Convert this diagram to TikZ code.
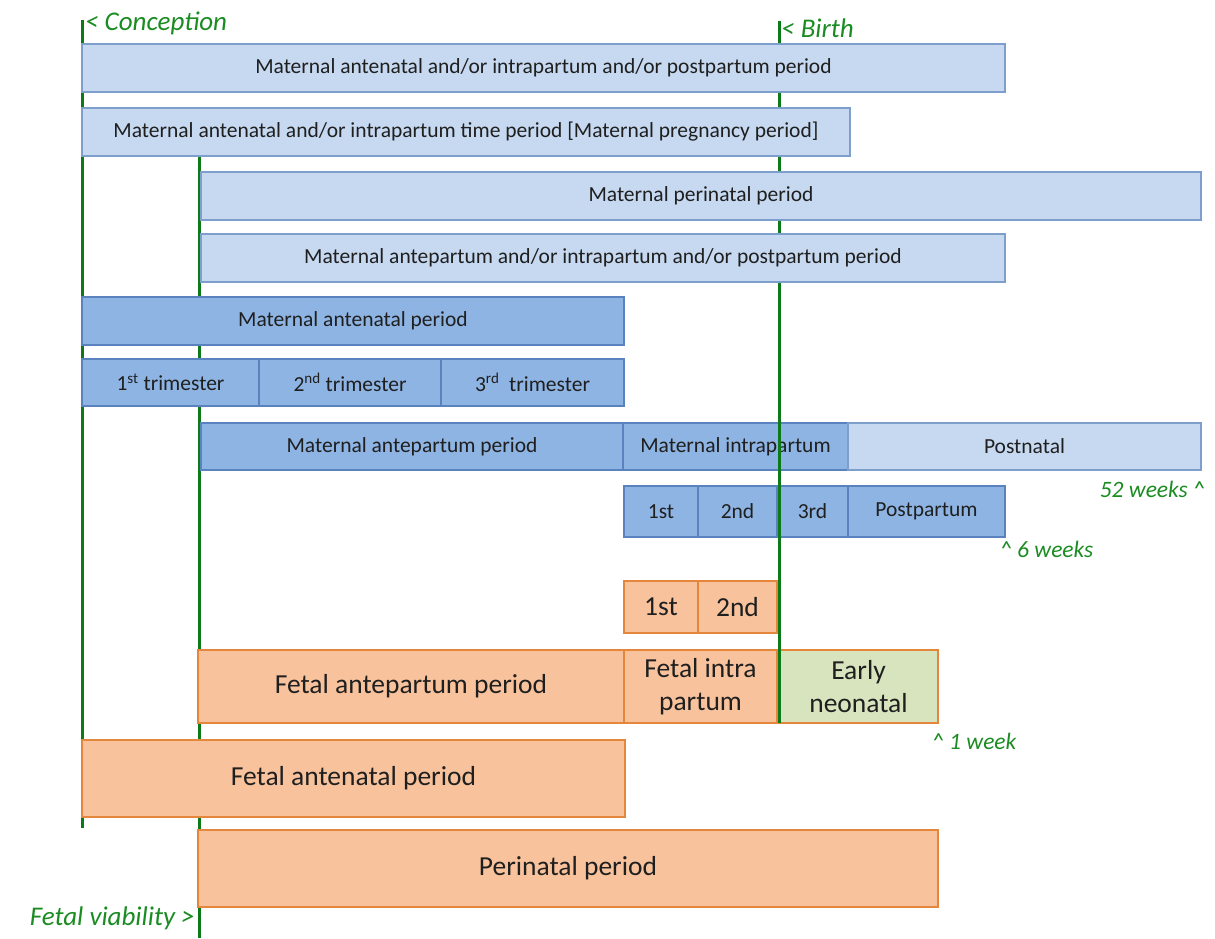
\documentclass[tikz,border=0pt]{standalone}
\usepackage{fontspec}
\setmainfont{Carlito}
\definecolor{lblue}{HTML}{C6D9F1}
\definecolor{lbluebd}{HTML}{7E9ECC}
\definecolor{dblue}{HTML}{8EB4E3}
\definecolor{dbluebd}{HTML}{5A82BE}
\definecolor{orng}{HTML}{F8C29C}
\definecolor{orngbd}{HTML}{E4863C}
\definecolor{neo}{HTML}{D8E4BE}
\definecolor{gline}{HTML}{0C7A18}
\definecolor{gtext}{HTML}{1B8C22}
\newcommand\pbox[7]{\node[#1, anchor=north west, minimum width={#5pt-#3pt}, minimum height={#6pt-#4pt}] (#2) at (#3,#4) {#7};}
\begin{document}
\begin{tikzpicture}[x=1pt,y=-1pt,
  bx/.style={draw, line width=1.3pt, inner sep=0pt, outer sep=0pt, align=center, text=black!88},
  lb/.style={bx, fill=lblue, draw=lbluebd, font=\fontsize{21.5}{25}\selectfont},
  db/.style={bx, fill=dblue, draw=dbluebd, font=\fontsize{21.5}{25}\selectfont},
  ob/.style={bx, fill=orng, draw=orngbd, font=\fontsize{27.5}{33}\selectfont},
  nb/.style={bx, fill=neo, draw=orngbd, font=\fontsize{27.5}{33}\selectfont},
  gl/.style={draw=gline, line width=3pt},
  gt/.style={text=gtext, font=\fontsize{27}{31}\selectfont\itshape, inner sep=0pt},
  gw/.style={gt, font=\fontsize{23.5}{28}\selectfont\itshape}]
\useasboundingbox (0,0) rectangle (1215,938);
% timeline lines (behind boxes)
\coordinate (cT) at (82,20); \coordinate (cB) at (82,828);
\coordinate (vT) at (199,156); \coordinate (vB) at (199,938);
\coordinate (bT) at (779,21); \coordinate (bB) at (779,723);
\coordinate (bM) at (779,418);
\draw[gl] (cT) -- (cB);
\draw[gl] (vT) -- (vB);
\draw[gl] (bT) -- (bB);
% labels
\node[gt, anchor=west] (conc) at (85,23) {< Conception};
\node[gt, anchor=west] (birth) at (781,28) {< Birth};
\node[gt, anchor=east] (viab) at (195,918) {Fetal viability >};
\node[gw, anchor=east] (w52) at (1205,489) {52 weeks \^{}};
\node[gw, anchor=west] (w6) at (1000,549) {\^{} 6 weeks};
\node[gw, anchor=west] (w1) at (932,741) {\^{} 1 week};
% maternal rows
\pbox{lb}{r1}{82}{44}{1005}{92}{Maternal antenatal and/or intrapartum and/or postpartum period}
\pbox{lb}{r2}{82}{108}{850}{156}{Maternal antenatal and/or intrapartum time period [Maternal pregnancy period]}
\pbox{lb}{r3}{201}{172}{1201}{220}{Maternal perinatal period}
\pbox{lb}{r4}{201}{234}{1005}{282}{Maternal antepartum and/or intrapartum and/or postpartum period}
\pbox{db}{r5}{82}{297}{624}{345}{Maternal antenatal period}
\pbox{db}{t1}{82}{359}{259}{406}{1\textsuperscript{st} trimester}
\pbox{db}{t2}{259}{359}{441}{406}{2\textsuperscript{nd} trimester}
\pbox{db}{t3}{441}{359}{624}{406}{3\textsuperscript{rd}\ \ trimester}
\pbox{db}{ap}{201}{423}{623}{470}{Maternal antepartum period}
\pbox{db}{ip}{623}{423}{848}{470}{Maternal intrapartum}
\pbox{lb}{pn}{848}{423}{1201}{470}{Postnatal}
\pbox{db}{s1}{624}{486}{698}{537}{1st}
\pbox{db}{s2}{698}{486}{777}{537}{2nd}
\pbox{db}{s3}{777}{486}{848}{537}{3rd}
\pbox{db}{pp}{848}{486}{1005}{537}{Postpartum}
% fetal rows
\pbox{ob}{f1}{624}{581}{698}{633}{1st}
\pbox{ob}{f2}{698}{581}{777}{633}{2nd}
\pbox{ob}{fap}{198}{650}{624}{723}{Fetal antepartum period}
\pbox{ob}{fip}{624}{650}{777}{723}{Fetal intra\\partum}
\pbox{nb}{en}{779}{650}{938}{723}{Early\\neonatal}
\pbox{ob}{fan}{82}{740}{625}{817}{Fetal antenatal period}
\pbox{ob}{per}{198}{830}{938}{907}{Perinatal period}
% birth line on top in lower part
\draw[gl] (bM) -- (bB);
\end{tikzpicture}
\end{document}
